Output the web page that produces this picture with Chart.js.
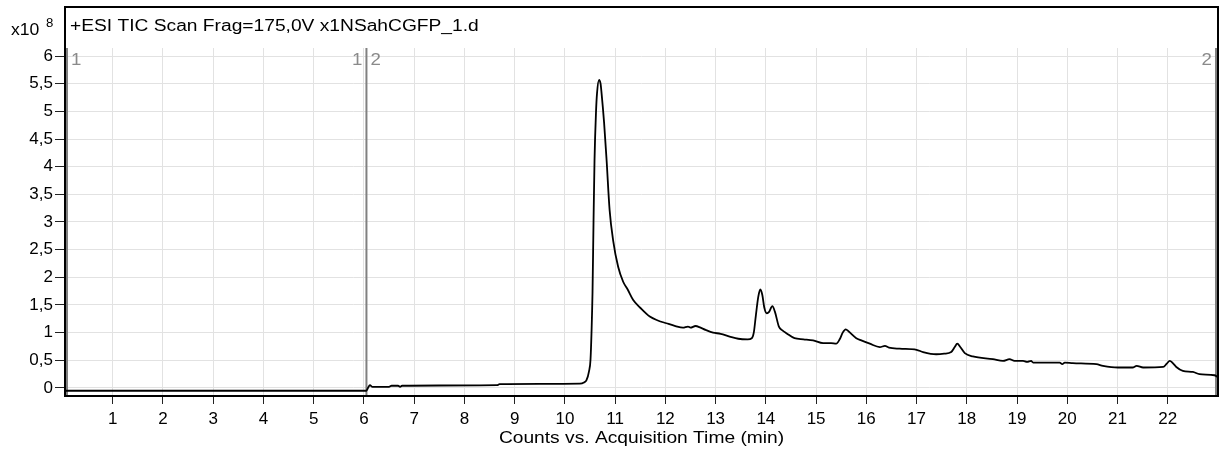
<!DOCTYPE html>
<html lang="en">
<head>
    <meta charset="UTF-8">
    <title>TIC x1NSahCGFP_1</title>
    <script src="https://cdn.jsdelivr.net/npm/chart.js"></script>
    <style>
        body {
            margin: 0;
            padding: 0;
            background: #fff;
        }

        #chartContainer {
            width: 1220px;
            height: 451px;
        }
    </style>
</head>
<body>
    <div id="chartContainer">
        <canvas id="chart" width="1220" height="451"></canvas>
    </div>

    <script>
        // Data (time in min, counts in units of 1e8)
        const times = [
            0.05, 6.05, 6.08, 6.12, 6.17, 6.5, 6.55, 6.68, 6.72, 6.76, 7.5, 8.65, 8.7, 9.5, 10.3,
            10.38, 10.43, 10.48, 10.51, 10.53, 10.55, 10.57, 10.59, 10.62, 10.64, 10.68, 10.71, 10.73,
            10.78, 10.83, 10.89, 10.96, 11.06, 11.16, 11.25, 11.36, 11.5, 11.69, 11.85, 12.02, 12.2,
            12.35, 12.45, 12.5, 12.6, 12.7, 12.8, 12.95, 13.1, 13.28, 13.45, 13.64, 13.72, 13.76, 13.8,
            13.85, 13.89, 13.93, 13.97, 14.02, 14.06, 14.13, 14.18, 14.26, 14.33, 14.41, 14.57, 14.75,
            14.94, 15.14, 15.3, 15.4, 15.47, 15.53, 15.59, 15.65, 15.8, 15.9, 16.07, 16.27, 16.37,
            16.45, 16.66, 17.0, 17.13, 17.39, 17.55, 17.69, 17.76, 17.81, 17.87, 17.96, 18.12, 18.52,
            18.72, 18.85, 18.95, 19.12, 19.2, 19.28, 19.32, 19.85, 19.9, 19.95, 20.11, 20.58, 20.71,
            21.01, 21.3, 21.38, 21.51, 21.91, 21.98, 22.04, 22.1, 22.17, 22.3, 22.5, 22.63, 22.93, 22.99
        ];
        const counts = [
            -0.05, -0.05, 0.0, 0.05, 0.02, 0.02, 0.04, 0.04, 0.02, 0.04, 0.045, 0.05, 0.07, 0.075, 0.08,
            0.1, 0.14, 0.3, 0.51, 1.0, 1.72, 3.0, 4.12, 5.0, 5.33, 5.57, 5.5, 5.33,
            4.8, 4.12, 3.22, 2.67, 2.19, 1.92, 1.78, 1.59, 1.45, 1.29, 1.22, 1.17, 1.12,
            1.09, 1.11, 1.09, 1.12, 1.09, 1.05, 1.0, 0.98, 0.93, 0.89, 0.88, 0.9, 1.0, 1.3,
            1.65, 1.78, 1.68, 1.45, 1.35, 1.37, 1.48, 1.38, 1.11, 1.04, 0.99, 0.9, 0.88,
            0.86, 0.81, 0.81, 0.8, 0.88, 1.0, 1.06, 1.02, 0.9, 0.86, 0.8, 0.74, 0.76,
            0.73, 0.71, 0.69, 0.65, 0.61, 0.62, 0.65, 0.74, 0.8, 0.74, 0.63, 0.57, 0.52,
            0.49, 0.52, 0.49, 0.49, 0.47, 0.49, 0.46, 0.46, 0.43, 0.46, 0.45, 0.43, 0.4,
            0.37, 0.37, 0.4, 0.37, 0.38, 0.44, 0.49, 0.45, 0.38, 0.31, 0.29, 0.25, 0.23, 0.2
        ];

        const xTicks = [1, 2, 3, 4, 5, 6, 7, 8, 9, 10, 11, 12, 13, 14, 15, 16, 17, 18, 19, 20, 21, 22];
        const yTicks = [0, 0.5, 1, 1.5, 2, 2.5, 3, 3.5, 4, 4.5, 5, 5.5, 6];

        // segment markers: time, label on the left, label on the right
        const markerTimes = [0.05, 6.05, 23];
        const markerLeftLabels = ['', '1', '2'];
        const markerRightLabels = ['1', '2', ''];

        const titleText = '+ESI TIC Scan Frag=175,0V x1NSahCGFP_1.d';
        const axisTitle = 'Counts vs. Acquisition Time (min)';
        const yExponent = '8';

        const fontFamily = '"Liberation Sans", Arial, sans-serif';

        // the instrument software draws its text a bit wider than Arial
        function wideText(ctx, text, x, y, align, stretch) {
            ctx.save();
            ctx.translate(x, y);
            ctx.scale(stretch, 1);
            ctx.textAlign = align;
            ctx.fillText(text, 0, 0);
            ctx.restore();
        }

        // grey segment lines behind the trace
        const markerPlugin = {
            id: 'markers',
            beforeDatasetsDraw(chart) {
                const { ctx, chartArea: a, scales: { x } } = chart;
                ctx.save();
                ctx.strokeStyle = '#808080';
                ctx.lineWidth = 2;
                ctx.fillStyle = '#8a8a8a';
                ctx.font = '17px ' + fontFamily;
                ctx.textBaseline = 'alphabetic';
                markerTimes.forEach((t, i) => {
                    let px = x.getPixelForValue(t);
                    if (i === 0) px = a.left + 2;
                    if (i === markerTimes.length - 1) px = a.right - 2;
                    ctx.beginPath();
                    ctx.moveTo(px, a.top);
                    ctx.lineTo(px, a.bottom);
                    ctx.stroke();
                    if (markerLeftLabels[i]) {
                        wideText(ctx, markerLeftLabels[i], px - 4, a.top + 17, 'right', 1.1);
                    }
                    if (markerRightLabels[i]) {
                        wideText(ctx, markerRightLabels[i], px + 4, a.top + 17, 'left', 1.1);
                    }
                });
                ctx.restore();
            }
        };

        // frame round title + plot, title texts and the exponent
        const framePlugin = {
            id: 'frame',
            afterDraw(chart) {
                const { ctx, chartArea: a } = chart;
                ctx.save();
                ctx.strokeStyle = '#000';
                ctx.lineWidth = 2;
                ctx.strokeRect(a.left, 7, a.right - a.left, a.bottom - 7);

                ctx.fillStyle = '#000';
                ctx.textBaseline = 'alphabetic';
                ctx.font = '16px ' + fontFamily;
                wideText(ctx, titleText, a.left + 5, 31, 'left', 1.2);
                wideText(ctx, axisTitle, (a.left + a.right) / 2, 443, 'center', 1.2);
                wideText(ctx, 'x10', 11, 35, 'left', 1.1);
                ctx.font = '12px ' + fontFamily;
                wideText(ctx, yExponent, 46, 27, 'left', 1.1);
                ctx.restore();
            }
        };

        const ctx = document.getElementById('chart').getContext('2d');

        new Chart(ctx, {
            type: 'line',
            data: {
                datasets: [{
                    data: times.map((t, i) => ({ x: t, y: counts[i] })),
                    borderColor: '#000',
                    borderWidth: 1.8,
                    pointRadius: 0,
                    cubicInterpolationMode: 'monotone',
                    fill: false
                }]
            },
            options: {
                responsive: false,
                animation: false,
                layout: {
                    padding: { top: 48, right: 2, left: 0, bottom: 0 }
                },
                plugins: {
                    legend: { display: false },
                    tooltip: { enabled: false }
                },
                scales: {
                    x: {
                        type: 'linear',
                        min: 0.05,
                        max: 23,
                        afterBuildTicks: s => { s.ticks = xTicks.map(v => ({ value: v })); },
                        afterFit: s => { s.height = 55; },
                        grid: {
                            color: '#e2e2e2',
                            tickColor: '#222',
                            tickLength: 8
                        },
                        border: { display: false },
                        ticks: {
                            color: '#000',
                            font: { size: 17, family: fontFamily },
                            padding: 5,
                            maxRotation: 0,
                            autoSkip: false
                        },
                        title: { display: false }
                    },
                    y: {
                        min: -0.145,
                        max: 6.145,
                        afterBuildTicks: s => { s.ticks = yTicks.map(v => ({ value: v })); },
                        afterFit: s => { s.width = 65; },
                        grid: {
                            color: '#e2e2e2',
                            tickColor: '#222',
                            tickLength: 10
                        },
                        border: { display: false },
                        ticks: {
                            color: '#000',
                            font: { size: 17, family: fontFamily },
                            padding: 2,
                            callback: v => String(v).replace('.', ',')
                        }
                    }
                }
            },
            plugins: [markerPlugin, framePlugin]
        });
    </script>
</body>
</html>
